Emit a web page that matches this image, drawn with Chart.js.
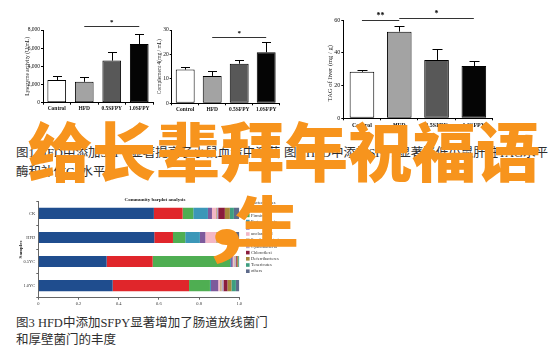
<!DOCTYPE html>
<html><head><meta charset="utf-8">
<script src="https://cdn.jsdelivr.net/npm/chart.js@4"></script>
<style>
body{margin:0;width:550px;height:357px;background:#fff;position:relative;overflow:hidden;font-family:"Liberation Serif","Noto Sans CJK SC",serif;}
canvas{position:absolute;}
.cap{position:absolute;font-size:12.5px;line-height:18px;color:#2e2e2e;white-space:nowrap;}
.big{position:absolute;font-family:"Noto Sans CJK SC";font-weight:900;color:#f7941d;font-size:64px;line-height:64px;white-space:nowrap;z-index:5;}
</style></head>
<body>
<canvas id="c1" style="left:0;top:0" width="160" height="125"></canvas>
<canvas id="c2" style="left:150px;top:0" width="140" height="125"></canvas>
<canvas id="c3" style="left:295px;top:0" width="210" height="130"></canvas>
<canvas id="c4" style="left:0;top:195px" width="300" height="115"></canvas>
<div class="cap" style="left:16px;top:144px">图1 HFD中添加SFPY显著提高了小鼠血清中溶菌</div>
<div class="cap" style="left:16px;top:163px">酶和补体C4水平</div>
<div class="cap" style="left:284px;top:144px">图2 HFD中添加SFPY显著降低小鼠肝脏TAG水平</div>
<div class="cap" style="left:16px;top:314px">图3 HFD中添加SFPY显著增加了肠道放线菌门</div>
<div class="cap" style="left:16px;top:331px">和厚壁菌门的丰度</div>
<div class="big" style="left:28px;top:116px">给长辈拜年祝福语</div>
<div class="big" style="left:208px;top:171px;font-size:80px;line-height:80px;transform:scaleX(1.3);transform-origin:left top">,</div>
<div class="big" style="left:235px;top:189px;transform:scaleY(0.86);transform-origin:50% 7px">生</div>
<script>
// ---- data ----
const barLabels = ['Control', 'HFD', '0.5SFPY', '1.0SFPY'];
const lysozyme = [2500, 2300, 4630, 6460];
const lysozymeErr = [450, 560, 910, 1100];
const lysozymeTicks = [0, 2000, 4000, 6000, 8000];
const complement = [13.8, 11.2, 16.2, 20.9];
const complementErr = [0.9, 2.0, 1.4, 4.3];
const complementTicks = [0, 10, 20, 30];
const tagLiver = [28.4, 52.9, 35.6, 31.9];
const tagLiverErr = [1.1, 3.6, 6.5, 3.3];
const tagLiverTicks = [0, 20, 40, 60];

const samples = ['CK', 'HFD', '0.5YC', '1.0YC'];
const phyla = ['Bacteroidetes', 'Actinobacteria', 'Firmicutes', 'Proteobacteria', 'Verrucomicrobia', 'unclassified', 'Saccharibacteria', 'Cyanobacteria', 'Chloroflexi', 'Deferribacteres', 'Tenericutes', 'others'];
const bacteroidetes = [0.575, 0.577, 0.340, 0.370];
const actinobacteria = [0.143, 0.093, 0.229, 0.380];
const firmicutes = [0.053, 0.061, 0.385, 0.104];
const proteobacteria = [0.073, 0.073, 0.005, 0.005];
const verrucomicrobia = [0.020, 0.027, 0.008, 0.036];
const unclassified = [0.020, 0.053, 0.006, 0.008];
const saccharibacteria = [0.005, 0.010, 0.004, 0.010];
const cyanobacteria = [0.006, 0.008, 0.006, 0.008];
const chloroflexi = [0.033, 0.033, 0.004, 0.020];
const deferribacteres = [0.025, 0.020, 0.006, 0.020];
const tenericutes = [0.020, 0.020, 0.004, 0.022];
const others = [0.027, 0.025, 0.003, 0.017];
const abundanceTicks = [0, 0.2, 0.4, 0.6, 0.8, 1];

// ---- styles ----
const barFills = ['#ffffff', '#a3a3a3', '#585858', '#050505'];
const phylumColors = ['#1f4d8e', '#e0262b', '#4fae52', '#3b97b8', '#7d5a9c', '#f3b7c6', '#c9b08a', '#b5abcc', '#8a1c3c', '#a5873a', '#3e9e80', '#5d6a8a'];
const serif = 'Liberation Serif';

const errPlugin = {
  id: 'err',
  afterDatasetsDraw(chart) {
    const o = chart.options.plugins.err;
    const ctx = chart.ctx, ys = chart.scales.y, xs = chart.scales.x;
    const meta = chart.getDatasetMeta(0);
    ctx.save();
    ctx.strokeStyle = '#000'; ctx.lineWidth = 1;
    o.values.forEach((v, i) => {
      const x = Math.round(meta.data[i].x) + 0.5;
      const y0 = ys.getPixelForValue(v);
      const y1 = Math.round(ys.getPixelForValue(v + o.errors[i])) + 0.5;
      ctx.beginPath();
      ctx.moveTo(x, y0); ctx.lineTo(x, y1);
      ctx.moveTo(x - o.cap, y1); ctx.lineTo(x + o.cap, y1);
      ctx.stroke();
    });
    ctx.fillStyle = '#000';
    ctx.textAlign = 'center'; ctx.textBaseline = 'bottom';
    ctx.font = 'bold ' + o.starSize + 'px ' + serif;
    o.sig.forEach(s => {
      const y = Math.round(ys.getPixelForValue(s.v)) + 0.5;
      const xa = xs.getPixelForValue(s.a), xb = xs.getPixelForValue(s.b);
      ctx.strokeStyle = '#333';
      ctx.beginPath(); ctx.moveTo(xa, y); ctx.lineTo(xb, y); ctx.stroke();
      ctx.fillText(s.t, (xa + xb) / 2, y - 0.5);
    });
    ctx.translate(o.tx, (chart.chartArea.top + chart.chartArea.bottom) / 2 + o.tdy);
    ctx.rotate(-Math.PI / 2);
    ctx.textBaseline = 'middle';
    ctx.font = o.tsize + 'px ' + serif;
    ctx.fillStyle = '#222';
    ctx.fillText(o.title, 0, 0);
    ctx.restore();
  }
};

function makeBar(id, o) {
  return new Chart(document.getElementById(id), {
    type: 'bar',
    data: { labels: barLabels, datasets: [{ data: o.values, backgroundColor: barFills, borderColor: '#000', borderWidth: 1, borderSkipped: false, categoryPercentage: 1, barPercentage: o.bp }] },
    options: {
      responsive: false, animation: false, events: [],
      layout: { padding: { top: o.pt, right: o.pr, left: 0, bottom: 0 } },
      plugins: { legend: { display: false }, tooltip: { enabled: false }, err: o },
      scales: {
        x: {
          grid: { display: true, drawOnChartArea: false, tickLength: 2, color: '#000' },
          border: { color: '#000', width: 1 },
          ticks: { color: '#111', font: { family: serif, size: o.fs, weight: 'bold' }, padding: o.xpad, maxRotation: 0, autoSkip: false },
          afterFit: s => { s.height = o.xh; }
        },
        y: {
          min: 0, max: o.max,
          grid: { display: true, drawOnChartArea: false, tickLength: 2, color: '#000' },
          border: { color: '#000', width: 1 },
          ticks: { color: '#111', font: { family: serif, size: o.fs }, padding: 1 },
          afterBuildTicks: s => { s.ticks = o.ticks.map(v => ({ value: v })); },
          afterFit: s => { s.width = o.yw; }
        }
      }
    },
    plugins: [errPlugin]
  });
}

makeBar('c1', { values: lysozyme, errors: lysozymeErr, ticks: lysozymeTicks, max: 8000, yw: 43, xh: 22.3, pt: 30, pr: 7, bp: 0.68, fs: 5.5, xpad: 1, cap: 4.5, starSize: 7,
  sig: [{ a: 1, b: 3, v: 8440, t: '*' }], title: 'Lysozyme activity (U/mL)', tx: 28, tdy: 0, tsize: 5.5 });
makeBar('c2', { values: complement, errors: complementErr, ticks: complementTicks, max: 30, yw: 21.7, xh: 21.7, pt: 30, pr: 10.3, bp: 0.7, fs: 5.5, xpad: 1, cap: 4.5, starSize: 7,
  sig: [{ a: 1, b: 3, v: 27.3, t: '*' }], title: 'Complement 4(mg / mL)', tx: 9.5, tdy: 0, tsize: 5.5 });
makeBar('c3', { values: tagLiver, errors: tagLiverErr, ticks: tagLiverTicks, max: 60, yw: 48.3, xh: 11.7, pt: 20, pr: 12.5, bp: 0.66, fs: 6, xpad: 2, cap: 5, starSize: 8,
  sig: [{ a: 0, b: 1, v: 59.7, t: '**' }, { a: 1, b: 3, v: 61.4, t: '*' }], title: 'TAG of liver (mg / g)', tx: 35, tdy: 4, tsize: 6.5 });

const phylaData = [bacteroidetes, actinobacteria, firmicutes, proteobacteria, verrucomicrobia, unclassified, saccharibacteria, cyanobacteria, chloroflexi, deferribacteres, tenericutes, others];

const commPlugin = {
  id: 'comm',
  afterDraw(chart) {
    const ctx = chart.ctx;
    ctx.save();
    ctx.fillStyle = '#222';
    ctx.textAlign = 'center'; ctx.textBaseline = 'middle';
    ctx.font = 'bold 5px ' + serif;
    ctx.fillText('Community barplot analysis', 155, 5);
    ctx.translate(20.5, (chart.chartArea.top + chart.chartArea.bottom) / 2);
    ctx.rotate(-Math.PI / 2);
    ctx.font = 'bold 5px ' + serif;
    ctx.fillText('Samples', 0, 0);
    ctx.restore();
    ctx.save();
    ctx.font = '4.5px ' + serif;
    ctx.textBaseline = 'middle'; ctx.textAlign = 'left';
    chart.data.datasets.forEach((d, i) => {
      const y = 8 + i * 6.2;
      ctx.fillStyle = d.backgroundColor;
      ctx.fillRect(246, y - 1.8, 3.6, 3.6);
      ctx.fillStyle = '#333';
      ctx.fillText(d.label, 251, y);
    });
    ctx.restore();
  }
};

new Chart(document.getElementById('c4'), {
  type: 'bar',
  data: { labels: samples, datasets: phylaData.map((d, i) => ({ label: phyla[i], data: d, backgroundColor: phylumColors[i], borderWidth: 0, barPercentage: 0.46, categoryPercentage: 1 })) },
  options: {
    indexAxis: 'y', responsive: false, animation: false, events: [],
    layout: { padding: { top: 6.3, right: 60.7, left: 0, bottom: 0 } },
    plugins: { legend: { display: false }, tooltip: { enabled: false } },
    scales: {
      x: {
        stacked: true, min: 0, max: 1,
        grid: { display: true, drawOnChartArea: false, tickLength: 2, color: '#666' },
        border: { color: '#666', width: 1 },
        ticks: { color: '#333', font: { family: serif, size: 4.5 }, padding: 1, maxRotation: 0 },
        afterBuildTicks: s => { s.ticks = abundanceTicks.map(v => ({ value: v })); },
        afterFit: s => { s.height = 12.3; }
      },
      y: {
        stacked: true,
        grid: { display: true, drawOnChartArea: false, tickLength: 2, color: '#666' },
        border: { color: '#666', width: 1 },
        ticks: { color: '#333', font: { family: serif, size: 4.5 }, padding: 1 },
        afterFit: s => { s.width = 38.3; }
      }
    }
  },
  plugins: [commPlugin]
});
</script>
</body></html>
